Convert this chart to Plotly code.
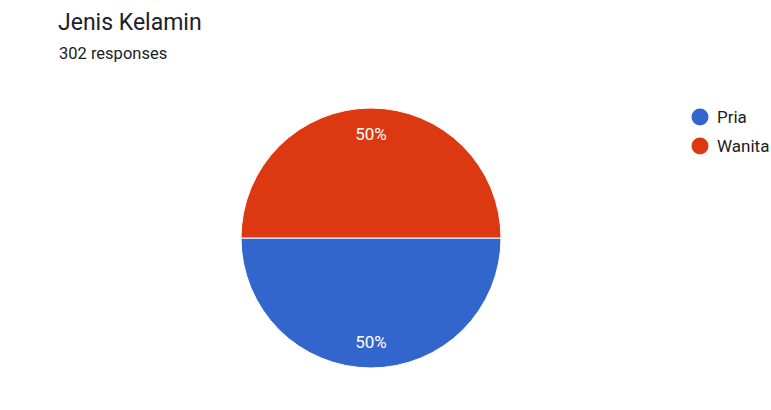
import plotly.graph_objects as go

categories = ["Pria", "Wanita"]
values = [151, 151]
colors = ["#3366cc", "#dc3912"]
title_text = "Jenis Kelamin"
subtitle_text = "302 responses"

W, H = 771, 410
pie_domain = dict(x=[241 / W, 501 / W], y=[1 - 368 / H, 1 - 108 / H])

fig = go.Figure()
# coloured slices
fig.add_trace(go.Pie(
    labels=categories, values=values,
    marker=dict(colors=colors, line=dict(color="white", width=1)),
    sort=False, direction="clockwise", rotation=90,
    textinfo="none", showlegend=False, hoverinfo="label+percent",
    domain=pie_domain,
))
# transparent ring carrying the percentage labels (placed further out like the reference)
fig.add_trace(go.Pie(
    labels=categories, values=values, hole=0.6,
    marker=dict(colors=["rgba(0,0,0,0)"] * len(categories), line=dict(width=0)),
    sort=False, direction="clockwise", rotation=90,
    textinfo="percent", texttemplate="%{percent:.0%}",
    textposition="inside", insidetextorientation="horizontal",
    textfont=dict(color="white", size=17, family="Roboto"),
    showlegend=False, hoverinfo="skip",
    domain=pie_domain,
))

shapes = []
annotations = [
    dict(text=title_text, x=56 / W, y=1 - 22 / H, xref="paper", yref="paper",
         xanchor="left", yanchor="middle", showarrow=False,
         font=dict(size=23, color="#202124", family="Roboto")),
    dict(text=subtitle_text, x=57 / W, y=1 - 53 / H, xref="paper", yref="paper",
         xanchor="left", yanchor="middle", showarrow=False,
         font=dict(size=16.5, color="#202124", family="Roboto")),
]
# legend
leg_x, leg_y0, leg_dy, r = 700, 117, 29, 8.5
for i, (c, col) in enumerate(zip(categories, colors)):
    cy = leg_y0 + i * leg_dy
    shapes.append(dict(type="circle", xref="paper", yref="paper",
                       x0=(leg_x - r) / W, x1=(leg_x + r) / W,
                       y0=1 - (cy + r) / H, y1=1 - (cy - r) / H,
                       fillcolor=col, line=dict(width=0)))
    annotations.append(dict(text=c, x=(leg_x + 15) / W, y=1 - cy / H,
                            xref="paper", yref="paper", xanchor="left", yanchor="middle",
                            showarrow=False,
                            font=dict(size=17, color="#202124", family="Roboto")))

fig.update_layout(
    width=W, height=H,
    margin=dict(l=0, r=0, t=0, b=0),
    paper_bgcolor="white", plot_bgcolor="white",
    font=dict(family="Roboto", color="#202124"),
    showlegend=False,
    shapes=shapes,
    annotations=annotations,
)

fig.write_html("out.html", config={"displayModeBar": False},
               post_script="document.body.style.margin='0px';")
